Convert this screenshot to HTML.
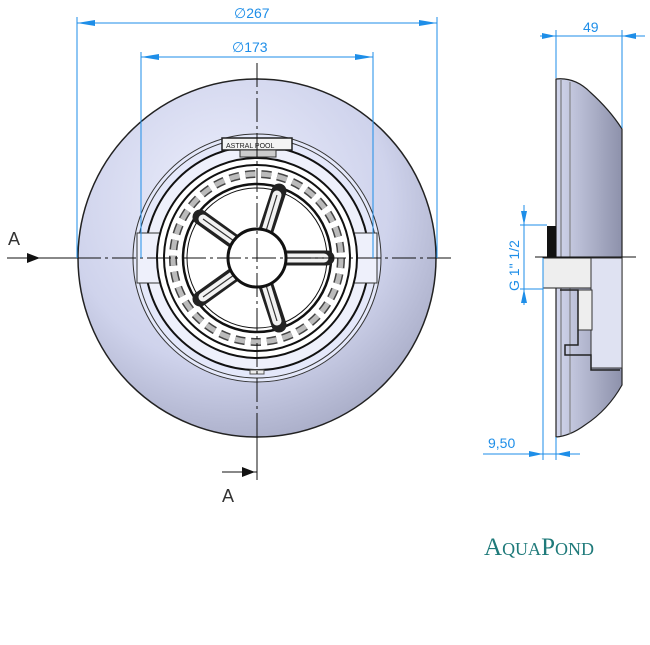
<!DOCTYPE html>
<html><head><meta charset="utf-8"><style>
html,body{margin:0;padding:0;background:#fff;width:650px;height:645px;overflow:hidden}
svg{display:block}
.d{stroke:#1e8ee8;stroke-width:1;fill:none}
.dt{fill:#1e8ee8;font-family:"Liberation Sans",sans-serif;font-size:14px}
</style></head><body>
<svg width="650" height="645" viewBox="0 0 650 645" xmlns="http://www.w3.org/2000/svg">
<defs>
<radialGradient id="g" cx="0.42" cy="0.35" r="0.75">
<stop offset="0" stop-color="#eef0fd"/><stop offset="0.6" stop-color="#cfd3ec"/><stop offset="1" stop-color="#9ea2bd"/></radialGradient>
<linearGradient id="s" x1="0" x2="1"><stop offset="0" stop-color="#d2d6ec"/><stop offset="1" stop-color="#8d91ab"/></linearGradient>
</defs>
<circle cx="257" cy="258" r="179" fill="url(#g)" stroke="#222" stroke-width="1.5"/>
<circle cx="257" cy="258" r="124" fill="#e4e8fa" stroke="#333" stroke-width="1"/>
<circle cx="257" cy="258" r="120" fill="none" stroke="#333" stroke-width="1"/>
<circle cx="257" cy="258" r="112" fill="#eef0fb" stroke="#111" stroke-width="2"/>
<rect x="137" y="233" width="240" height="50" fill="#eef0fb" stroke="#333"/>
<circle cx="257" cy="258" r="100" fill="#fff" stroke="#111" stroke-width="2"/>
<circle cx="257" cy="258" r="93" fill="none" stroke="#111" stroke-width="2"/>
<circle cx="257" cy="258" r="84" fill="none" stroke="#444" stroke-width="8" stroke-dasharray="10 6"/>
<circle cx="257" cy="258" r="84" fill="none" stroke="#bbb" stroke-width="5" stroke-dasharray="10 6"/>
<circle cx="257" cy="258" r="74" fill="#fff" stroke="#111" stroke-width="2.5"/>
<circle cx="257" cy="258" r="70" fill="none" stroke="#111" stroke-width="1"/>
<g stroke="#222" stroke-width="15" stroke-linecap="round">
<line x1="257" y1="258" x2="327" y2="258"/><line x1="257" y1="258" x2="279" y2="191"/><line x1="257" y1="258" x2="200" y2="217"/><line x1="257" y1="258" x2="200" y2="299"/><line x1="257" y1="258" x2="279" y2="325"/></g>
<g stroke="#f2f2f2" stroke-width="9" stroke-linecap="round">
<line x1="285" y1="258" x2="324" y2="258"/><line x1="266" y1="231" x2="277" y2="195"/><line x1="234" y1="241" x2="203" y2="219"/><line x1="234" y1="275" x2="203" y2="297"/><line x1="266" y1="285" x2="277" y2="321"/></g>
<g stroke="#333" stroke-width="1.2">
<line x1="285" y1="258" x2="324" y2="258"/><line x1="266" y1="231" x2="277" y2="195"/><line x1="234" y1="241" x2="203" y2="219"/><line x1="234" y1="275" x2="203" y2="297"/><line x1="266" y1="285" x2="277" y2="321"/></g>
<circle cx="257" cy="258" r="29" fill="#fff" stroke="#111" stroke-width="3"/>
<rect x="222" y="138" width="70" height="12" fill="#f4f4f4" stroke="#222" stroke-width="1.5"/>
<text x="226" y="148" font-family="Liberation Sans,sans-serif" font-size="7" fill="#222">ASTRAL POOL</text>
<rect x="240" y="150" width="36" height="7" fill="#ccc" stroke="#333"/>
<rect x="250" y="370" width="14" height="4" fill="#eee" stroke="#555"/>
<line x1="257" y1="63" x2="257" y2="480" stroke="#111" stroke-dasharray="24 4 3 4"/>
<line x1="7" y1="258" x2="455" y2="258" stroke="#111" stroke-dasharray="24 4 3 4"/>
<line x1="7" y1="258" x2="78" y2="258" stroke="#111"/>
<line x1="257" y1="437" x2="257" y2="480" stroke="#111"/>
<path d="M27 253 L40 258 L27 263Z" fill="#111"/>
<line x1="222" y1="472" x2="257" y2="472" stroke="#111"/>
<path d="M242 467 L255 472 L242 477Z" fill="#111"/>
<text x="8" y="245" font-family="Liberation Sans,sans-serif" font-size="18" fill="#333">A</text>
<text x="222" y="502" font-family="Liberation Sans,sans-serif" font-size="18" fill="#333">A</text>
<line class="d" x1="77" y1="17" x2="77" y2="258"/><line class="d" x1="437" y1="17" x2="437" y2="258"/>
<line class="d" x1="77" y1="23" x2="437" y2="23"/>
<path d="M77 23 L95 20 L95 26Z M437 23 L419 20 L419 26Z" fill="#1e8ee8"/>
<text class="dt" x="234" y="18" font-size="16">∅267</text>
<line class="d" x1="141" y1="52" x2="141" y2="258"/><line class="d" x1="373" y1="52" x2="373" y2="258"/>
<line class="d" x1="141" y1="57" x2="373" y2="57"/>
<path d="M141 57 L159 54 L159 60Z M373 57 L355 54 L355 60Z" fill="#1e8ee8"/>
<text class="dt" x="232" y="52" font-size="16">∅173</text>
<path d="M556 79 Q575 77 590 92 Q610 110 622 129 L622 385 Q608 410 585 425 Q570 436 556 437 Z" fill="url(#s)" stroke="#222" stroke-width="1.2"/>
<line x1="561" y1="80" x2="561" y2="436" stroke="#666"/>
<line x1="570" y1="82" x2="570" y2="434" stroke="#777"/>
<rect x="547" y="226" width="9" height="32" fill="#111"/>
<rect x="543" y="258" width="48" height="30" fill="#eee" stroke="#222"/>
<rect x="591" y="258" width="31" height="110" fill="#dfe2f2" stroke="#333"/>
<rect x="578" y="290" width="14" height="40" fill="#eee" stroke="#333"/>
<path d="M560 290 L578 290 L578 345 L565 345 L565 355 L591 355 L591 370 L620 370" fill="none" stroke="#222" stroke-width="1.5"/>
<line x1="535" y1="257" x2="636" y2="257" stroke="#111"/>
<line class="d" x1="556" y1="30" x2="556" y2="78"/><line class="d" x1="622" y1="30" x2="622" y2="128"/>
<line class="d" x1="540" y1="36" x2="645" y2="36"/>
<path d="M556 36 L542 33 L542 39Z M622 36 L636 33 L636 39Z" fill="#1e8ee8"/>
<text class="dt" x="583" y="32">49</text>
<line class="d" x1="543" y1="258" x2="543" y2="460"/><line class="d" x1="556" y1="437" x2="556" y2="460"/>
<line class="d" x1="483" y1="454" x2="580" y2="454"/>
<path d="M543 454 L529 451 L529 457Z M556 454 L570 451 L570 457Z" fill="#1e8ee8"/>
<text class="dt" x="488" y="448">9,50</text>
<line class="d" x1="524" y1="205" x2="524" y2="305"/>
<line class="d" x1="520" y1="225" x2="547" y2="225"/><line class="d" x1="520" y1="289" x2="543" y2="289"/>
<path d="M524 225 L521 211 L527 211Z M524 289 L521 303 L527 303Z" fill="#1e8ee8"/>
<text class="dt" transform="translate(519,291) rotate(-90)">G 1" 1/2</text>
<text x="484" y="555" font-family="Liberation Serif,serif" font-size="25" fill="#1f7a7a">A<tspan font-size="18">QUA</tspan>P<tspan font-size="18">OND</tspan></text>
</svg>
</body></html>
